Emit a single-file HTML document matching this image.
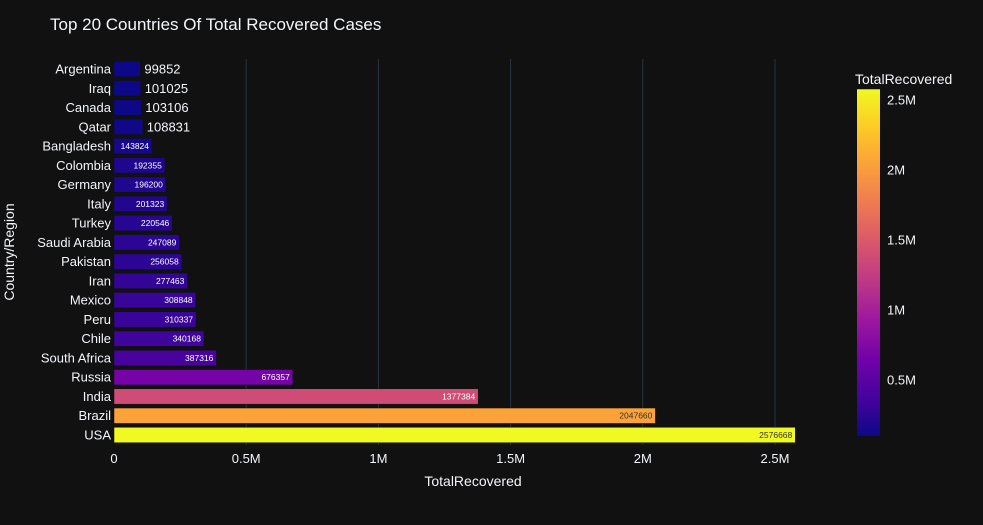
<!DOCTYPE html>
<html><head><meta charset="utf-8"><style>
html,body{margin:0;padding:0;background:#111111;}
svg{display:block;font-family:"Liberation Sans",Arial,sans-serif;}
</style></head><body>
<svg id="chart" width="983" height="525">
<rect width="983" height="525" fill="#111111"/>
<text x="50" y="30" fill="#f2f5fa" font-size="17">Top 20 Countries Of Total Recovered Cases</text>
<g id="grid"></g><g id="bars"></g><g id="yticks"></g><g id="xticks"></g>
<text x="473" y="486" fill="#f2f5fa" font-size="14" text-anchor="middle">TotalRecovered</text>
<text transform="translate(14,252) rotate(-90)" fill="#f2f5fa" font-size="14" text-anchor="middle">Country/Region</text>
<text x="855" y="84" fill="#f2f5fa" font-size="14">TotalRecovered</text>
<defs><linearGradient id="plasma" x1="0" y1="1" x2="0" y2="0">
<stop offset="0" stop-color="#0d0887"/><stop offset="0.111" stop-color="#46039f"/><stop offset="0.222" stop-color="#7201a8"/><stop offset="0.333" stop-color="#9c179e"/><stop offset="0.444" stop-color="#bd3786"/><stop offset="0.556" stop-color="#d8576b"/><stop offset="0.667" stop-color="#ed7953"/><stop offset="0.778" stop-color="#fb9f3a"/><stop offset="0.889" stop-color="#fdca26"/><stop offset="1" stop-color="#f0f921"/>
</linearGradient></defs>
<g id="cbar"></g>
</svg>
<script>
const countries=["Argentina","Iraq","Canada","Qatar","Bangladesh","Colombia","Germany","Italy","Turkey","Saudi Arabia","Pakistan","Iran","Mexico","Peru","Chile","South Africa","Russia","India","Brazil","USA"];
const recovered=[99852,101025,103106,108831,143824,192355,196200,201323,220546,247089,256058,277463,308848,310337,340168,387316,676357,1377384,2047660,2576668];
const xTicks=[0,500000,1000000,1500000,2000000,2500000];
const xTickLabels=["0","0.5M","1M","1.5M","2M","2.5M"];
const cbTicks=[500000,1000000,1500000,2000000,2500000];
const cbTickLabels=["0.5M","1M","1.5M","2M","2.5M"];
const NS="http://www.w3.org/2000/svg";
const x0=114,pxPer=(775-114)/2500000;
const X=v=>x0+v*pxPer;
const step=(435-69)/(countries.length-1);
const Y=i=>69+i*step;
const bh=step*0.8;
const cols=["#0d0887","#46039f","#7201a8","#9c179e","#bd3786","#d8576b","#ed7953","#fb9f3a","#fdca26","#f0f921"];
const vmin=Math.min(...recovered),vmax=Math.max(...recovered);
function hex(h){return [1,3,5].map(i=>parseInt(h.substr(i,2),16));}
function color(v){let t=(v-vmin)/(vmax-vmin)*(cols.length-1);let i=Math.min(Math.floor(t),cols.length-2);let f=t-i;let a=hex(cols[i]),b=hex(cols[i+1]);return "rgb("+a.map((c,k)=>Math.round(c+(b[k]-c)*f)).join(",")+")";}
function el(tag,attrs,parent,txt){const e=document.createElementNS(NS,tag);for(const k in attrs)e.setAttribute(k,attrs[k]);if(txt!==undefined)e.textContent=txt;parent.appendChild(e);return e;}
const grid=document.getElementById("grid"),bars=document.getElementById("bars"),yt=document.getElementById("yticks"),xt=document.getElementById("xticks"),cb=document.getElementById("cbar");
xTicks.forEach((v,i)=>{
 if(i>0){const l=el("line",{x1:X(v),x2:X(v),y1:59,y2:445,stroke:"#283442","stroke-width":1},grid);
 
 }
 const t=el("text",{x:X(v),y:463,fill:"#f2f5fa","font-size":13,"text-anchor":"middle"},xt,xTickLabels[i]);
 
 
});
countries.forEach((c,i)=>{
 const v=recovered[i],y=Y(i);
 const r=el("rect",{x:x0,y:y-bh/2,width:X(v)-x0,height:bh,fill:color(v),stroke:"#111111","stroke-width":0.5},bars);
 
 
 const lab=el("text",{x:x0-3,y:y+4.5,fill:"#f2f5fa","font-size":13,"text-anchor":"end"},yt,c);
 
 
 let t;
 if(v<120000){t=el("text",{x:X(v)+4,y:y+4.5,fill:"#f2f5fa","font-size":13},bars,String(v));}
 else{const dark=v>1800000;t=el("text",{x:X(v)-3,y:y+3,fill:dark?"#333":"#ffffff","font-size":8.5,"text-anchor":"end"},bars,String(v));}
 
 
});
const cbY=v=>380-(v-500000)*140/1000000;
const g=el("rect",{x:857,y:cbY(vmax),width:23,height:cbY(vmin)-cbY(vmax),fill:"url(#plasma)"},cb);


cbTicks.forEach((v,i)=>{
 const t=el("text",{x:887,y:cbY(v)+4.5,fill:"#f2f5fa","font-size":13},cb,cbTickLabels[i]);
 
 
});
</script>
</body></html>
